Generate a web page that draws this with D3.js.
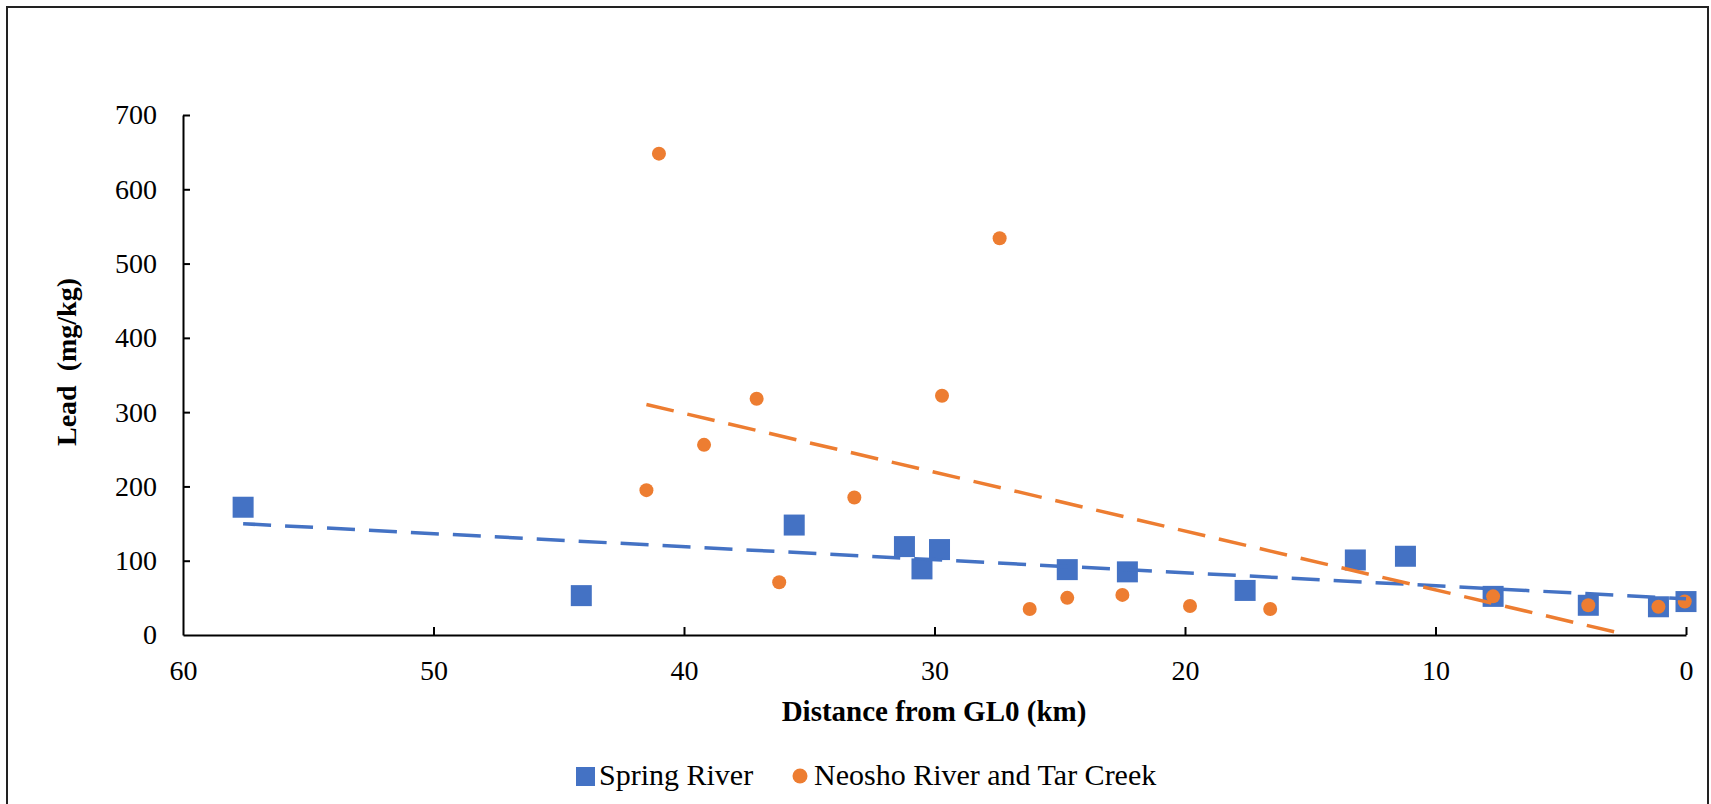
<!DOCTYPE html>
<html>
<head>
<meta charset="utf-8">
<script src="https://cdn.jsdelivr.net/npm/d3@7"></script>
<style>
	body { margin: 0; background: #fff; }
	svg text { font-family: "Liberation Serif", "Times New Roman", serif; fill: #000; }
	.axis path, .axis line { stroke: #000; stroke-width: 2px; }
	.axis text { font-size: 28px; font-family: "Liberation Serif", serif; }
</style>
</head>
<body>
<svg id="chart" width="1711" height="804"></svg>
<script>
// distance from GL0 (km) and lead (mg/kg)
var springDist = [57.6, 44.1, 35.6, 31.2, 30.5, 29.8, 24.7, 22.3, 17.6, 13.2, 11.2, 7.7, 3.9, 1.1, 0];
var springLead = [172, 53, 148, 119, 89, 115, 88, 85, 60, 101, 106, 52, 40, 38, 45];

var neoshoDist = [41.5, 41.0, 39.2, 37.1, 36.2, 33.2, 29.7, 27.4, 26.2, 24.7, 22.5, 19.8, 16.6, 7.7, 3.9, 1.1, 0.05];
var neoshoLead = [195, 648, 256, 318, 71, 185, 322, 534, 35, 50, 54, 39, 35, 52, 40, 38, 45];

var xTicks = [60, 50, 40, 30, 20, 10, 0];
var yTicks = [0, 100, 200, 300, 400, 500, 600, 700];

var seriesNames = ["Spring River", "Neosho River and Tar Creek"];
var colors = ["#4472C4", "#ED7D31"];

var svg = d3.select("#chart");

// outer frame
svg.append("rect")
	.attr("x", 7).attr("y", 7)
	.attr("width", 1701).attr("height", 830)
	.attr("fill", "none")
	.attr("stroke", "#222")
	.attr("stroke-width", 2);

var xScale = d3.scaleLinear().domain([60, 0]).range([183, 1686]),
	yScale = d3.scaleLinear().domain([0, 700]).range([635, 115]);

var xAxis = d3.axisBottom(xScale).tickValues(xTicks).tickFormat(d3.format("d"))
	.tickSizeInner(-8).tickSizeOuter(0).tickPadding(25);
var yAxis = d3.axisLeft(yScale).tickValues(yTicks).tickFormat(d3.format("d"))
	.tickSizeInner(-7).tickSizeOuter(0).tickPadding(26);

svg.append("g").attr("class", "axis")
	.attr("transform", "translate(0,635)")
	.call(xAxis)
	.call(g => g.selectAll(".tick").filter(d => d == 60).select("line").remove());

svg.append("g").attr("class", "axis")
	.attr("transform", "translate(183,0)")
	.call(yAxis)
	.call(g => g.selectAll(".tick").filter(d => d == 0).select("line").remove());

// axis titles
svg.append("text")
	.attr("x", 934).attr("y", 721)
	.attr("text-anchor", "middle")
	.style("font-size", "29px").style("font-weight", "bold")
	.text("Distance from GL0 (km)");

svg.append("text")
	.attr("transform", "translate(76,362) rotate(-90)")
	.attr("text-anchor", "middle")
	.style("font-size", "28px").style("font-weight", "bold")
	.text("Lead\u00a0\u00a0(mg/kg)");

var spring = springDist.map((d, i) => [d, springLead[i]]);
var neosho = neoshoDist.map((d, i) => [d, neoshoLead[i]]);

// least squares trend line over the series' x range, drawn from the far end
var trend = function(pts) {
	var mx = d3.mean(pts, p => p[0]), my = d3.mean(pts, p => p[1]);
	var sxy = d3.sum(pts, p => (p[0] - mx) * (p[1] - my)),
		sxx = d3.sum(pts, p => (p[0] - mx) * (p[0] - mx));
	var b = sxy / sxx, a = my - b * mx;
	var x0 = d3.min(pts, p => p[0]), x1 = d3.max(pts, p => p[0]);
	// clip at y = 0 like the plot area does
	if (a + b * x0 < 0) x0 = -a / b;
	return [[x1, a + b * x1], [x0, a + b * x0]];
};

var plot = svg.append("g");

plot.selectAll(".sq").data(spring).enter().append("rect")
	.attr("class", "sq")
	.attr("x", d => xScale(d[0]) - 10.5)
	.attr("y", d => yScale(d[1]) - 10.5)
	.attr("width", 21).attr("height", 21)
	.attr("fill", colors[0]);

plot.selectAll(".dot").data(neosho).enter().append("circle")
	.attr("class", "dot")
	.attr("cx", d => xScale(d[0]))
	.attr("cy", d => yScale(d[1]))
	.attr("r", 7)
	.attr("fill", colors[1]);

var line = d3.line().x(d => xScale(d[0])).y(d => yScale(d[1]));

[spring, neosho].forEach(function(pts, i) {
	plot.append("path")
		.attr("d", line(trend(pts)))
		.attr("fill", "none")
		.attr("stroke", colors[i])
		.attr("stroke-width", 3.5)
		.attr("stroke-dasharray", "28,14");
});

// legend
var legend = svg.append("g").style("font-size", "30px");
legend.append("rect")
	.attr("x", 576).attr("y", 767)
	.attr("width", 19).attr("height", 19)
	.attr("fill", colors[0]);
legend.append("text").attr("x", 599).attr("y", 785).text(seriesNames[0]);
legend.append("circle")
	.attr("cx", 800).attr("cy", 776).attr("r", 7.5)
	.attr("fill", colors[1]);
legend.append("text").attr("x", 814).attr("y", 785).text(seriesNames[1]);
</script>
</body>
</html>
